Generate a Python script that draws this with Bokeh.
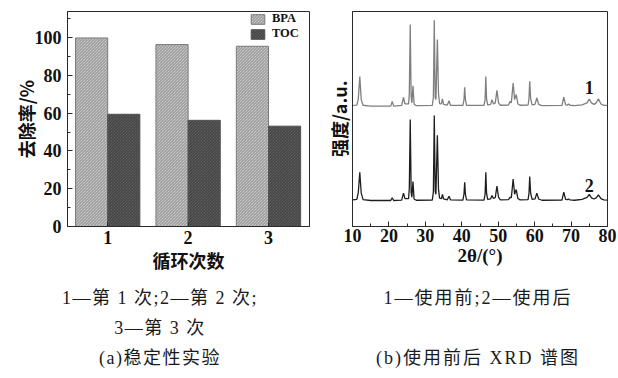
from bokeh.plotting import figure
from bokeh.models import Div, FixedTicker, Label, ColumnDataSource, Legend, LegendItem
from bokeh.layouts import row, column
from bokeh.transform import dodge
from bokeh.embed import file_html
from bokeh.resources import INLINE

# ---------------- data ----------------
cycles = [1, 2, 3]
bpa_removal = [99.8, 96.3, 95.4]
toc_removal = [59.4, 56.2, 53.1]
removal_ticks = [0, 20, 40, 60, 80, 100]

two_theta = [10.0, 11.2, 11.6, 12.0, 12.4, 12.9, 15.0, 20.5, 20.9, 21.3, 23.5, 24.0, 24.4,
             25.4, 25.6, 25.85, 26.1, 26.3, 26.6, 26.9, 27.5, 31.9, 32.2, 32.45, 32.7, 32.9,
             33.3, 33.6, 33.9, 34.4, 34.7, 35.0, 36.0, 36.5, 36.9, 40.3, 40.6, 40.8, 41.0,
             41.3, 46.1, 46.4, 46.6, 46.8, 47.1, 47.9, 48.3, 48.7, 49.2, 49.65, 50.1, 50.6,
             52.8, 53.3, 53.6, 54.1, 54.5, 54.95, 55.4, 56.0, 58.2, 58.45, 58.65, 58.9, 59.3,
             60.1, 60.6, 61.1, 62.0, 67.5, 68.0, 68.5, 69.0, 69.3, 69.7, 71.0, 73.0, 74.4,
             75.0, 75.6, 76.3, 76.9, 77.5, 78.2, 79.0, 80.0]
before_use = [56.3, 56.5, 59.5, 69.7, 59.0, 56.4, 56.0, 56.0, 58.2, 56.0, 56.3, 60.0, 57.0,
              57.0, 62.0, 94.0, 60.0, 57.5, 65.4, 57.0, 56.2, 56.3, 60.0, 95.9, 60.0, 59.0,
              87.0, 62.0, 57.2, 57.0, 59.4, 56.8, 56.4, 58.5, 56.4, 56.3, 59.0, 64.8, 59.0,
              56.4, 56.3, 59.0, 69.7, 59.5, 56.6, 56.8, 59.0, 57.0, 57.5, 63.3, 57.5, 56.4,
              56.5, 58.2, 57.5, 66.7, 59.0, 61.4, 57.0, 56.4, 56.5, 59.5, 67.6, 59.5, 56.6,
              56.8, 59.8, 56.8, 56.2, 56.3, 60.2, 56.6, 56.5, 57.0, 56.4, 56.2, 56.6, 57.5,
              59.3, 57.5, 56.8, 57.5, 59.4, 57.0, 56.3, 56.3]
after_use = [12.4, 12.6, 16.0, 25.2, 15.5, 12.5, 12.1, 12.1, 13.4, 12.1, 12.3, 15.5, 13.0,
             13.0, 18.0, 49.8, 16.0, 13.6, 20.9, 12.8, 12.2, 12.3, 16.0, 51.6, 16.5, 15.0,
             42.4, 17.5, 13.2, 13.0, 14.9, 12.8, 12.4, 14.1, 12.4, 12.3, 15.0, 20.6, 15.0,
             12.4, 12.3, 15.0, 25.2, 15.5, 12.6, 12.8, 14.4, 13.0, 13.5, 18.8, 13.5, 12.4,
             12.5, 13.6, 13.4, 22.1, 15.0, 17.2, 13.0, 12.4, 12.5, 15.5, 23.2, 15.5, 12.6,
             12.8, 15.5, 12.8, 12.2, 12.3, 16.0, 12.6, 12.5, 12.8, 12.4, 12.2, 12.6, 13.5,
             14.9, 13.3, 12.8, 13.3, 14.7, 13.0, 12.4, 12.3]
theta_ticks = [10, 20, 30, 40, 50, 60, 70, 80]

SERIF = "Liberation Serif"
CJK = "Noto Sans CJK SC"
DARK = "#2a2a2a"

# ---------------- (a) stability ----------------
src = ColumnDataSource(dict(cycle=cycles, bpa=bpa_removal, toc=toc_removal))

pa = figure(width=310, height=283, x_range=(0.5, 3.51), y_range=(0, 113.8),
            output_backend="svg", toolbar_location=None,
            min_border_left=67, min_border_right=1, min_border_top=11, min_border_bottom=57)
r_bpa = pa.vbar(x=dodge("cycle", -0.2, range=pa.x_range), top="bpa", width=0.4, source=src,
                fill_color="#e4e4e4", hatch_pattern="\\", hatch_color="#8c8c8c",
                hatch_scale=3, hatch_weight=1, line_color="#7a7a7a", line_width=1)
r_toc = pa.vbar(x=dodge("cycle", 0.2, range=pa.x_range), top="toc", width=0.4, source=src,
                fill_color="#6c6c6c", hatch_pattern="\\", hatch_color="#3c3c3c",
                hatch_scale=3, hatch_weight=1, line_color="#555555", line_width=1)

legend = Legend(items=[LegendItem(label="BPA", renderers=[r_bpa]),
                       LegendItem(label="TOC", renderers=[r_toc])],
                location=(182, 185), margin=0, padding=0, spacing=-3,
                glyph_width=17, glyph_height=12, label_height=12, label_standoff=6,
                label_text_font=SERIF, label_text_font_style="bold",
                label_text_font_size="12.5px", label_text_color="#111111",
                background_fill_alpha=0, border_line_alpha=0)
pa.add_layout(legend)

pa.xgrid.visible = False
pa.ygrid.visible = False
pa.outline_line_color = DARK
pa.outline_line_width = 1

pa.yaxis.ticker = FixedTicker(ticks=removal_ticks,
                              minor_ticks=[10, 30, 50, 70, 90, 110])
pa.yaxis.major_tick_in = 5
pa.yaxis.major_tick_out = 0
pa.yaxis.minor_tick_in = 3
pa.yaxis.minor_tick_out = 0
pa.yaxis.major_label_standoff = 6
pa.yaxis.axis_label = "去除率/%"
pa.yaxis.axis_label_standoff = -7

pa.xaxis.ticker = FixedTicker(ticks=cycles)
pa.xaxis.major_tick_in = 4
pa.xaxis.major_tick_out = 0
pa.xaxis.major_label_standoff = 4
pa.xaxis.axis_label = "循环次数"
pa.xaxis.axis_label_standoff = 0

for ax in (pa.xaxis, pa.yaxis):
    ax.axis_line_color = DARK
    ax.major_tick_line_color = DARK
    ax.major_label_text_font = SERIF
    ax.major_label_text_font_style = "bold"
    ax.major_label_text_font_size = "18px"
    ax.major_label_text_color = "#111111"
    ax.axis_label_text_font = CJK
    ax.axis_label_text_font_style = "bold"
    ax.axis_label_text_font_size = "18px"
    ax.axis_label_text_color = "#111111"
pa.yaxis.minor_tick_line_color = DARK
pa.xaxis.minor_tick_line_color = None

# ---------------- (b) XRD ----------------
pb = figure(width=308, height=283, x_range=(10, 80), y_range=(0, 100),
            output_backend="svg", toolbar_location=None,
            min_border_left=42, min_border_right=11, min_border_top=11, min_border_bottom=55)
pb.line(two_theta, before_use, line_color="#7f7f7f", line_width=1.3)
pb.line(two_theta, after_use, line_color="#1e1e1e", line_width=1.3)

for txt, yy in (("1", 64.5), ("2", 18.9)):
    pb.add_layout(Label(x=75.0, y=yy, text=txt, text_align="center", text_baseline="middle",
                        text_font=SERIF, text_font_style="bold", text_font_size="18px",
                        text_color="#111111"))

pb.xgrid.visible = False
pb.ygrid.visible = False
pb.outline_line_color = DARK
pb.outline_line_width = 1

pb.xaxis.ticker = FixedTicker(ticks=theta_ticks,
                              minor_ticks=[15, 25, 35, 45, 55, 65, 75])
pb.xaxis.major_tick_in = 5
pb.xaxis.major_tick_out = 0
pb.xaxis.minor_tick_in = 3
pb.xaxis.minor_tick_out = 0
pb.xaxis.major_label_standoff = 2
pb.xaxis.axis_label = "2θ/(°)"
pb.xaxis.axis_label_standoff = 0
pb.xaxis.axis_label_text_font = SERIF
pb.xaxis.axis_label_text_font_style = "bold"
pb.xaxis.axis_label_text_font_size = "19px"
pb.xaxis.axis_label_text_color = "#111111"
pb.xaxis.major_label_text_font = SERIF
pb.xaxis.major_label_text_font_style = "bold"
pb.xaxis.major_label_text_font_size = "18px"
pb.xaxis.major_label_text_color = "#111111"
pb.xaxis.axis_line_color = DARK
pb.xaxis.major_tick_line_color = DARK
pb.xaxis.minor_tick_line_color = DARK

pb.yaxis.ticker = FixedTicker(ticks=[])
pb.yaxis.major_tick_in = 0
pb.yaxis.major_tick_out = 0
pb.yaxis.minor_tick_line_color = None
pb.yaxis.major_label_text_font_size = "0px"
pb.yaxis.major_label_standoff = 0
pb.yaxis.axis_label = "强度/a.u."
pb.yaxis.axis_label_standoff = 1
pb.yaxis.axis_label_text_font = CJK
pb.yaxis.axis_label_text_font_style = "bold"
pb.yaxis.axis_label_text_font_size = "18px"
pb.yaxis.axis_label_text_color = "#111111"
pb.yaxis.axis_line_color = DARK

# ---------------- captions ----------------
def cap_style(pad_left, spacing):
    return {"font-family": "'Liberation Serif', 'Noto Sans CJK SC', serif",
            "font-size": "18px", "line-height": "30px", "text-align": "center",
            "color": "#1a1a1a", "letter-spacing": f"{spacing}px", "box-sizing": "border-box",
            "padding-left": f"{pad_left}px", "width": "100%"}

cap_a = Div(text="1—第 1 次;2—第 2 次;<br>3—第 3 次<br>(a)稳定性实验",
            width=320, height=90, margin=0, styles=cap_style(0, 1.5))
cap_b = Div(text="1—使用前;2—使用后<br>&nbsp;<br>(b)使用前后 XRD 谱图",
            width=298, height=90, margin=0, styles=cap_style(18, 2))

layout = column(row(pa, pb, spacing=0), row(cap_a, cap_b, spacing=0), spacing=0)

open("out.html", "w").write(file_html(layout, INLINE))
